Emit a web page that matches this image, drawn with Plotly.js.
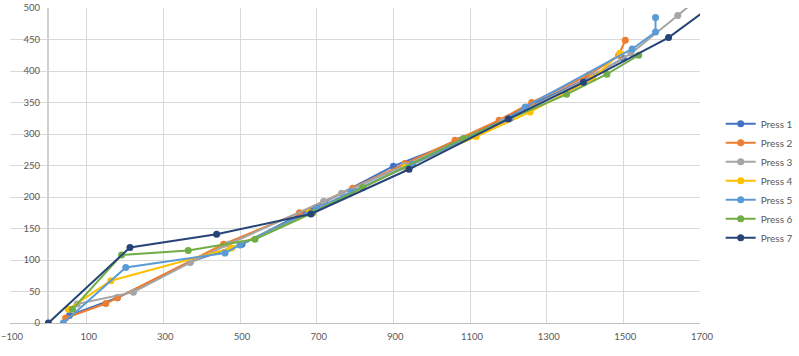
<!DOCTYPE html>
<html>
<head>
<meta charset="utf-8">
<script src="https://cdn.plot.ly/plotly-3.0.1.min.js"></script>
<style>html,body{margin:0;padding:0;background:#fff;}#chart{width:799px;height:356px;}</style>
</head>
<body>
<div id="chart"></div>
<script>
const seriesNames = ["Press 1","Press 2","Press 3","Press 4","Press 5","Press 6","Press 7"];
const seriesColors = ["#4472C4","#ED7D31","#A5A5A5","#FFC000","#5B9BD5","#70AD47","#264478"];

const press1X = [55, 180, 370, 505, 720, 900, 1075, 1245, 1405, 1500];
const press1Y = [12, 40, 97, 125, 192, 249, 290, 342, 388, 420];

const press2X = [45, 150, 180, 457, 655, 794, 930, 1061, 1176, 1261, 1411, 1488, 1505];
const press2Y = [8, 31, 40, 125, 175, 214, 253, 290, 322, 350, 394, 425, 449];

const press3X = [75, 222, 370, 470, 718, 765, 930, 1185, 1420, 1520, 1642, 1700];
const press3Y = [30, 49, 96, 125, 193, 206, 250, 320, 392, 428, 488, 518];

const press4X = [52, 163, 478, 680, 930, 1116, 1257, 1420, 1491];
const press4Y = [22, 67, 119, 175, 247, 296, 335, 388, 428];

const press5X = [39, 202, 461, 500, 700, 790, 950, 1205, 1244, 1523, 1584, 1584];
const press5Y = [0, 88, 111, 124, 182, 208, 252, 325, 343, 435, 462, 485];

const press6X = [63, 191, 365, 539, 690, 820, 1083, 1352, 1457, 1540];
const press6Y = [22, 108, 115, 133, 175, 215, 293, 363, 395, 425];

const press7X = [0, 213, 439, 685, 941, 1200, 1396, 1618, 1750];
const press7Y = [0, 120, 141, 173, 244, 324, 382, 453, 512];

const xs = [press1X, press2X, press3X, press4X, press5X, press6X, press7X];
const ys = [press1Y, press2Y, press3Y, press4Y, press5Y, press6Y, press7Y];

const traces = seriesNames.map((n, i) => ({
  type: 'scatter', mode: 'lines+markers', name: n,
  x: xs[i], y: ys[i],
  line: {color: seriesColors[i], width: 2},
  marker: {color: seriesColors[i], size: 7},
  cliponaxis: true
}));

const layout = {
  width: 799, height: 356,
  margin: {l: 10, r: 99, t: 8, b: 33},
  paper_bgcolor: '#fff', plot_bgcolor: '#fff',
  font: {family: 'Lato, Open Sans, sans-serif', size: 10, color: '#595959'},
  showlegend: true,
  legend: {xref: 'container', yref: 'container', x: 0.902, xanchor: 'left', y: 0.492, yanchor: 'middle',
           font: {size: 10, color: '#595959'}, tracegroupgap: 0, bgcolor: 'rgba(0,0,0,0)'},
  xaxis: {
    range: [-100, 1700], tick0: -100, dtick: 200, tickmode: 'linear',
    showgrid: true, gridcolor: '#D9D9D9', gridwidth: 1,
    zeroline: true, zerolinecolor: '#D0D0D0', zerolinewidth: 2,
    showline: false, ticks: '', ticklabelstandoff: 6, ticklabelshift: 2, ticklabeloverflow: 'allow',
    tickfont: {size: 9.5}, fixedrange: true
  },
  yaxis: {
    range: [0, 500], dtick: 50, tickmode: 'linear',
    anchor: 'free', position: 0.0566,
    showgrid: true, gridcolor: '#D9D9D9', gridwidth: 1,
    zeroline: true, zerolinecolor: '#BFBFBF', zerolinewidth: 1,
    showline: false, ticks: '', ticklabelstandoff: 9, ticklabeloverflow: 'allow',
    tickfont: {size: 9.5}, fixedrange: true
  }
};

Plotly.newPlot('chart', traces, layout, {displayModeBar: false, staticPlot: true});
</script>
</body>
</html>
